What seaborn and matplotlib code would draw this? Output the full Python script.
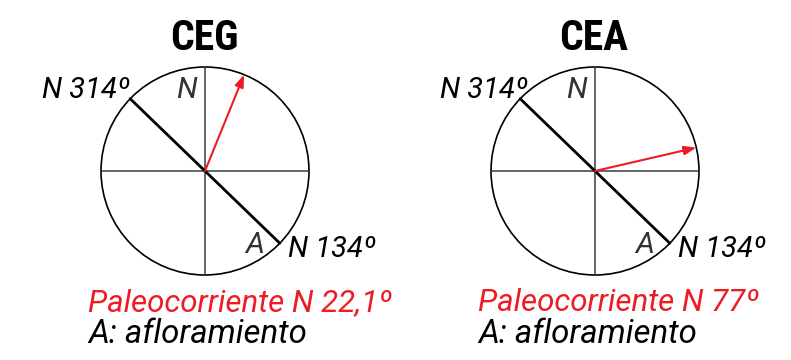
import numpy as np
import pandas as pd
import matplotlib
matplotlib.use("Agg")
import matplotlib.pyplot as plt
import seaborn as sns
from matplotlib.patches import Circle
from matplotlib import font_manager as fm

# ---- data ----
sites = ["CEG", "CEA"]
paleocurrent_deg = [22.1, 77.0]
paleocurrent_labels = ["Paleocorriente N 22,1º", "Paleocorriente N 77º"]
outcrop_strike_deg = [314, 134]
strike_labels = ["N 314º", "N 134º"]
north_label = "N"
outcrop_label = "A"
legend_label = "A: afloramiento"

# ---- style ----
sns.set_theme(style="white")
plt.rcParams["font.family"] = ["Roboto", "Liberation Sans", "DejaVu Sans"]
plt.rcParams["text.color"] = "black"

RED = "#ED1C24"
GRAY = "#3a3a3a"

installed = {f.name for f in fm.fontManager.ttflist}
title_family = "Roboto"
for cand in ["Roboto Condensed", "Liberation Sans Narrow", "Open Sans Condensed",
             "DejaVu Sans Condensed", "Noto Sans Condensed"]:
    if cand in installed:
        title_family = cand
        break
condensed_avail = title_family != "Roboto"

fig = plt.figure(figsize=(7.91, 3.6), dpi=100)
ax = fig.add_axes([0, 0, 1, 1])

centers_x = [205, 595]
cy = 171
R = 104


def pt(cx, deg, r):
    rad = np.deg2rad(deg)
    return cx + r * np.sin(rad), cy - r * np.cos(rad)


rows = []
for i, cx in enumerate(centers_x):
    for j, a in enumerate([0, 90]):
        x1, y1 = pt(cx, a, R)
        x2, y2 = pt(cx, a + 180, R)
        rows += [dict(x=x1, y=y1, seg=f"c{i}{j}", kind="cross"),
                 dict(x=x2, y=y2, seg=f"c{i}{j}", kind="cross")]
    x1, y1 = pt(cx, outcrop_strike_deg[0], R)
    x2, y2 = pt(cx, outcrop_strike_deg[1], R)
    rows += [dict(x=x1, y=y1, seg=f"s{i}", kind="strike"),
             dict(x=x2, y=y2, seg=f"s{i}", kind="strike")]
df = pd.DataFrame(rows)

sns.lineplot(data=df[df.kind == "cross"], x="x", y="y", units="seg",
             estimator=None, sort=False, color=GRAY, lw=1.1, ax=ax, legend=False)
sns.lineplot(data=df[df.kind == "strike"], x="x", y="y", units="seg",
             estimator=None, sort=False, color="black", lw=2.0, ax=ax, legend=False)
ax.set_xlim(0, 791)
ax.set_ylim(360, 0)
ax.set_aspect("equal")
ax.axis("off")

label_kw = dict(style="italic", va="baseline", ha="left")
for i, cx in enumerate(centers_x):
    ax.add_patch(Circle((cx, cy), R, fill=False, ec="black", lw=1.2))
    tx, ty = pt(cx, paleocurrent_deg[i], R)
    ax.annotate("", xy=(tx, ty), xytext=(cx, cy),
                arrowprops=dict(arrowstyle="-|>,head_length=0.6,head_width=0.22",
                                color=RED, lw=1.5, shrinkA=0, shrinkB=0,
                                mutation_scale=12))
    ax.text(cx - 1, 50, sites[i], ha="center", va="baseline",
            fontsize=30 if condensed_avail else 27,
            fontweight="bold", fontstretch="condensed", color="black",
            family=[title_family, "DejaVu Sans"])
    off = -163 if i == 0 else -155
    ax.text(cx + off, 98, strike_labels[0], fontsize=21, color="black", **label_kw)
    ax.text(cx + 83, 257, strike_labels[1], fontsize=21, color="black", **label_kw)
    ax.text(cx - 29, 98, north_label, fontsize=21.5, color="#333333", **label_kw)
    ax.text(cx + 40, 253, outcrop_label, fontsize=21.5, color="#333333", **label_kw)
    ax.text(cx - 117, 311, paleocurrent_labels[i], fontsize=22.5, color=RED, **label_kw)
    ax.text(cx - 117, 343, legend_label, fontsize=23.8, color="black", **label_kw)

fig.savefig("out.png", dpi=100)
